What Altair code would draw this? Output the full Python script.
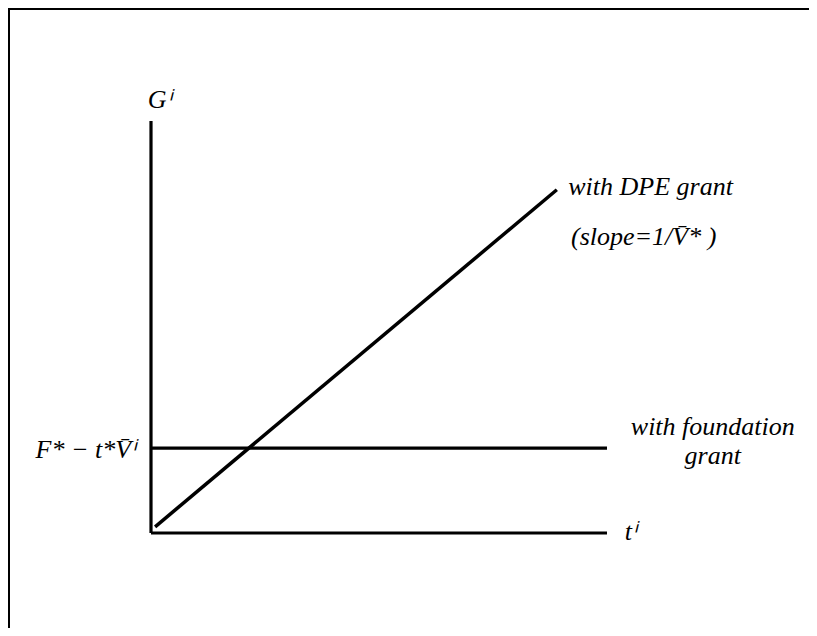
import altair as alt
import pandas as pd

# Data (diagram units)
axis_x = [0.0, 0.0]          # vertical axis t
axis_y = [0.0, 10.0]         # vertical axis G
xaxis_t = [0.0, 10.0]
xaxis_g = [0.0, 0.0]
found_t = [0.0, 10.0]
found_g = [2.06, 2.06]
dpe_t = [0.09, 8.9]
dpe_g = [0.15, 8.33]

label_text = ["Gⁱ", "F* − t*V̄ⁱ", "with DPE grant", "(slope=1/V̄* )",
              "with foundation", "grant", "tⁱ"]
label_t = [-0.07, -0.35, 9.15, 9.21, 12.32, 12.32, 10.39]
label_g = [10.32, 1.82, 8.2, 6.99, 2.38, 1.68, -0.17]
label_align = ["left", "right", "left", "left", "center", "center", "left"]

XDOM = [-3.136, 14.43]
YDOM = [-2.306, 12.74]

FONT = "Liberation Serif"

xs = alt.Scale(domain=XDOM, nice=False, zero=False)
ys = alt.Scale(domain=YDOM, nice=False, zero=False)

def seg(t, g, name, w=3.2):
    df = pd.DataFrame({"t": t, "g": g, "s": name})
    return alt.Chart(df).mark_line(color="black", strokeWidth=w, strokeCap="butt").encode(
        x=alt.X("t:Q", scale=xs, axis=None),
        y=alt.Y("g:Q", scale=ys, axis=None),
    )

layers = [
    seg(axis_x, axis_y, "yaxis"),
    seg(xaxis_t, xaxis_g, "xaxis"),
    seg(found_t, found_g, "found"),
    seg(dpe_t, dpe_g, "dpe", 3.5),
]

labels = pd.DataFrame({"text": label_text, "t": label_t, "g": label_g, "align": label_align})
for al in ["left", "right", "center"]:
    sub = labels[labels["align"] == al]
    layers.append(
        alt.Chart(sub).mark_text(
            font=FONT, fontStyle="italic", fontSize=26,
            align=al, baseline="alphabetic", color="black"
        ).encode(
            x=alt.X("t:Q", scale=xs, axis=None),
            y=alt.Y("g:Q", scale=ys, axis=None),
            text="text:N",
        )
    )

# frame (left and top edges of the scanned box)
layers.append(alt.Chart(pd.DataFrame({"a": [0]})).mark_rule(color="black", strokeWidth=2).encode(
    x=alt.value(1), y=alt.value(0), y2=alt.value(620)))
layers.append(alt.Chart(pd.DataFrame({"a": [0]})).mark_rule(color="black", strokeWidth=2).encode(
    x=alt.value(0), x2=alt.value(801), y=alt.value(1)))

chart = alt.layer(*layers).properties(
    width=801, height=620, padding=0, autosize=alt.AutoSizeParams(type="none")
).configure(background="white", view=alt.ViewConfig(strokeWidth=0))

chart.save("out.html", embed_options={"renderer": "svg", "actions": False})
